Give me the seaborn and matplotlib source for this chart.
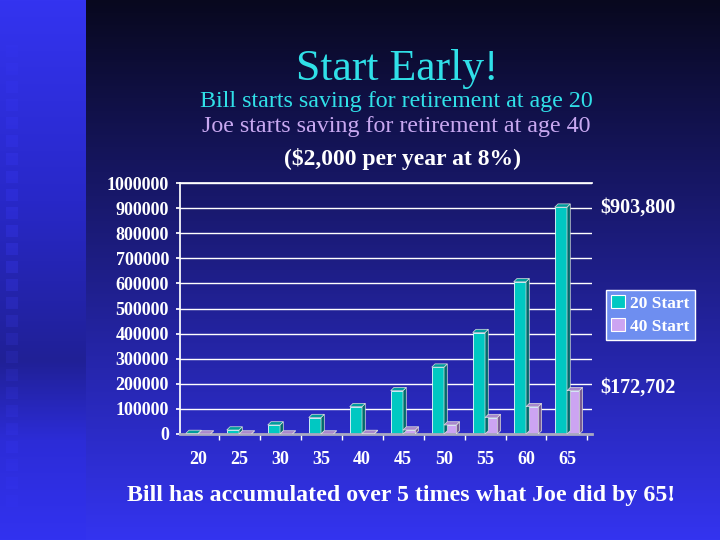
import numpy as np
import pandas as pd
import seaborn as sns
import matplotlib.pyplot as plt
from matplotlib.patches import Polygon, Patch
import matplotlib.transforms as mtransforms

sns.set_theme(style="white")
plt.rcParams['font.family'] = ['Liberation Serif', 'DejaVu Serif']

# values
ages = [20, 25, 30, 35, 40, 45, 50, 55, 60, 65]
start_20 = [2160, 15845, 35954, 65500, 108914, 172702, 266400, 404100, 606500, 903800]
start_40 = [0, 0, 0, 0, 2160, 15845, 35954, 65500, 108914, 172702]
series = ["20 Start", "40 Start"]
yticks = [0, 100000, 200000, 300000, 400000, 500000, 600000, 700000, 800000, 900000, 1000000]

face = {"20 Start": "#00c8c2", "40 Start": "#cca4f2"}
side = {"20 Start": "#006a6c", "40 Start": "#7a5e96"}
top = {"20 Start": "#009c9c", "40 Start": "#a888cc"}

df = pd.DataFrame({
    "age": [str(a) for a in ages] * 2,
    "series": [series[0]] * len(ages) + [series[1]] * len(ages),
    "value": start_20 + start_40,
})

W, H = 720, 540
fig = plt.figure(figsize=(W / 100, H / 100), dpi=100)

# slide background: dark-to-bright gradient plus lighter left strip with squares
yy = np.arange(H)[:, None]
xx = np.arange(W)[None, :]
t = yy / (H - 1)
main = np.stack([8 + 44 * t, 8 + 44 * t, 30 + 210 * t], axis=-1) * np.ones((1, W, 1))
ky = [0, 200, 360, 440, 539]
strip_r = np.interp(np.arange(H), ky, [52, 40, 32, 44, 50])
strip_b = np.interp(np.arange(H), ky, [240, 200, 150, 215, 240])
strip = np.stack([strip_r, strip_r, strip_b], axis=-1)[:, None, :] * np.ones((1, W, 1))
bg = np.where(xx[..., None] < 86, strip, main)
for y0 in range(45, 500, 18):
    fade = max(0.0, 1.0 - abs(y0 - 270) / 260)
    bg[y0:y0 + 12, 6:18] += np.array([6, 6, 18]) * fade
bg = np.clip(bg, 0, 255).astype(np.uint8)

bax = fig.add_axes([0, 0, 1, 1], zorder=0)
bax.imshow(bg, aspect='auto', interpolation='bilinear')
bax.axis('off')

ax = fig.add_axes([180 / W, 106 / H, 412 / W, 251 / H], zorder=1)
ax.set_facecolor('none')

sns.barplot(data=df, x="age", y="value", hue="series", hue_order=series,
            palette=face, saturation=1, width=0.6, edgecolor="#e8ffff", linewidth=0.6,
            legend=False, ax=ax)

# fake 3D depth on each bar
dx, dy = 0.08, 13000
for cont, name in zip(ax.containers, series):
    for p in cont.patches:
        x0, w, h = p.get_x(), p.get_width(), p.get_height()
        ax.add_patch(Polygon([(x0 + w, 0), (x0 + w + dx, dy), (x0 + w + dx, h + dy), (x0 + w, h)],
                             closed=True, facecolor=side[name], edgecolor="#dddddd", lw=0.5, zorder=3))
        ax.add_patch(Polygon([(x0, h), (x0 + dx, h + dy), (x0 + w + dx, h + dy), (x0 + w, h)],
                             closed=True, facecolor=top[name], edgecolor="#dddddd", lw=0.5, zorder=3))

ax.set_xlim(-0.44, 9.61)
ax.set_ylim(0, 1000000)
ax.set_yticks(yticks)
ax.set_yticklabels([str(v) for v in yticks])
ax.yaxis.grid(True, color="white", lw=1)
ax.set_axisbelow(True)
ax.set_xlabel("")
ax.set_ylabel("")
ax.spines["right"].set_visible(False)
ax.spines["top"].set_color("white")
ax.spines["left"].set_color("white")
ax.spines["bottom"].set_color("#a8a8c0")
ax.spines["bottom"].set_linewidth(2)
ax.tick_params(axis="y", colors="white", length=3, pad=5, labelsize=13, left=True)
ax.tick_params(axis="x", colors="white", length=0, pad=12, labelsize=13)
ax.set_xticks(np.arange(len(ages)) + 0.5, minor=True)
ax.tick_params(axis="x", which="minor", length=4, color="white", bottom=True)
for lab in ax.get_xticklabels() + ax.get_yticklabels():
    lab.set_fontweight("bold")

# value callouts at the right
trans = mtransforms.blended_transform_factory(fig.transFigure, ax.transData)
ax.text(600 / W, start_20[-1], "$903,800", transform=trans, color="white", fontsize=14.5,
        fontweight="bold", va="center", ha="left")
ax.text(600 / W, start_40[-1] + 12000, "$172,702", transform=trans, color="white", fontsize=14.5,
        fontweight="bold", va="center", ha="left")

handles = [Patch(facecolor=face[s], edgecolor="white", lw=0.8) for s in series]
leg = fig.legend(handles, series, loc="upper left", bbox_to_anchor=(606 / W, 1 - 290 / H),
                 frameon=True, fancybox=False, facecolor="#6e8ef0", edgecolor="white",
                 fontsize=12.5, handlelength=0.8, handleheight=0.8, handletextpad=0.3,
                 borderpad=0.3, labelspacing=0.35, borderaxespad=0)
leg.get_frame().set_alpha(1)
for txt in leg.get_texts():
    txt.set_color("white")
    txt.set_fontweight("bold")

fig.text(397 / W, 1 - 69 / H, "Start Early!", color="#30e0e8", fontsize=31.5, ha="center", va="center")
fig.text(396 / W, 1 - 102 / H, "Bill starts saving for retirement at age 20", color="#30e0e8",
         fontsize=17.3, ha="center", va="center")
fig.text(396 / W, 1 - 126 / H, "Joe starts saving for retirement at age 40", color="#c8a8f0",
         fontsize=17.3, ha="center", va="center")
fig.text(403 / W, 1 - 159 / H, "($2,000 per year at 8%)", color="white", fontsize=17,
         fontweight="bold", ha="center", va="center")
fig.text(401 / W, 1 - 496 / H, "Bill has accumulated over 5 times what Joe did by 65!", color="white",
         fontsize=17.2, fontweight="bold", ha="center", va="center")

fig.savefig("out.png", dpi=100)
